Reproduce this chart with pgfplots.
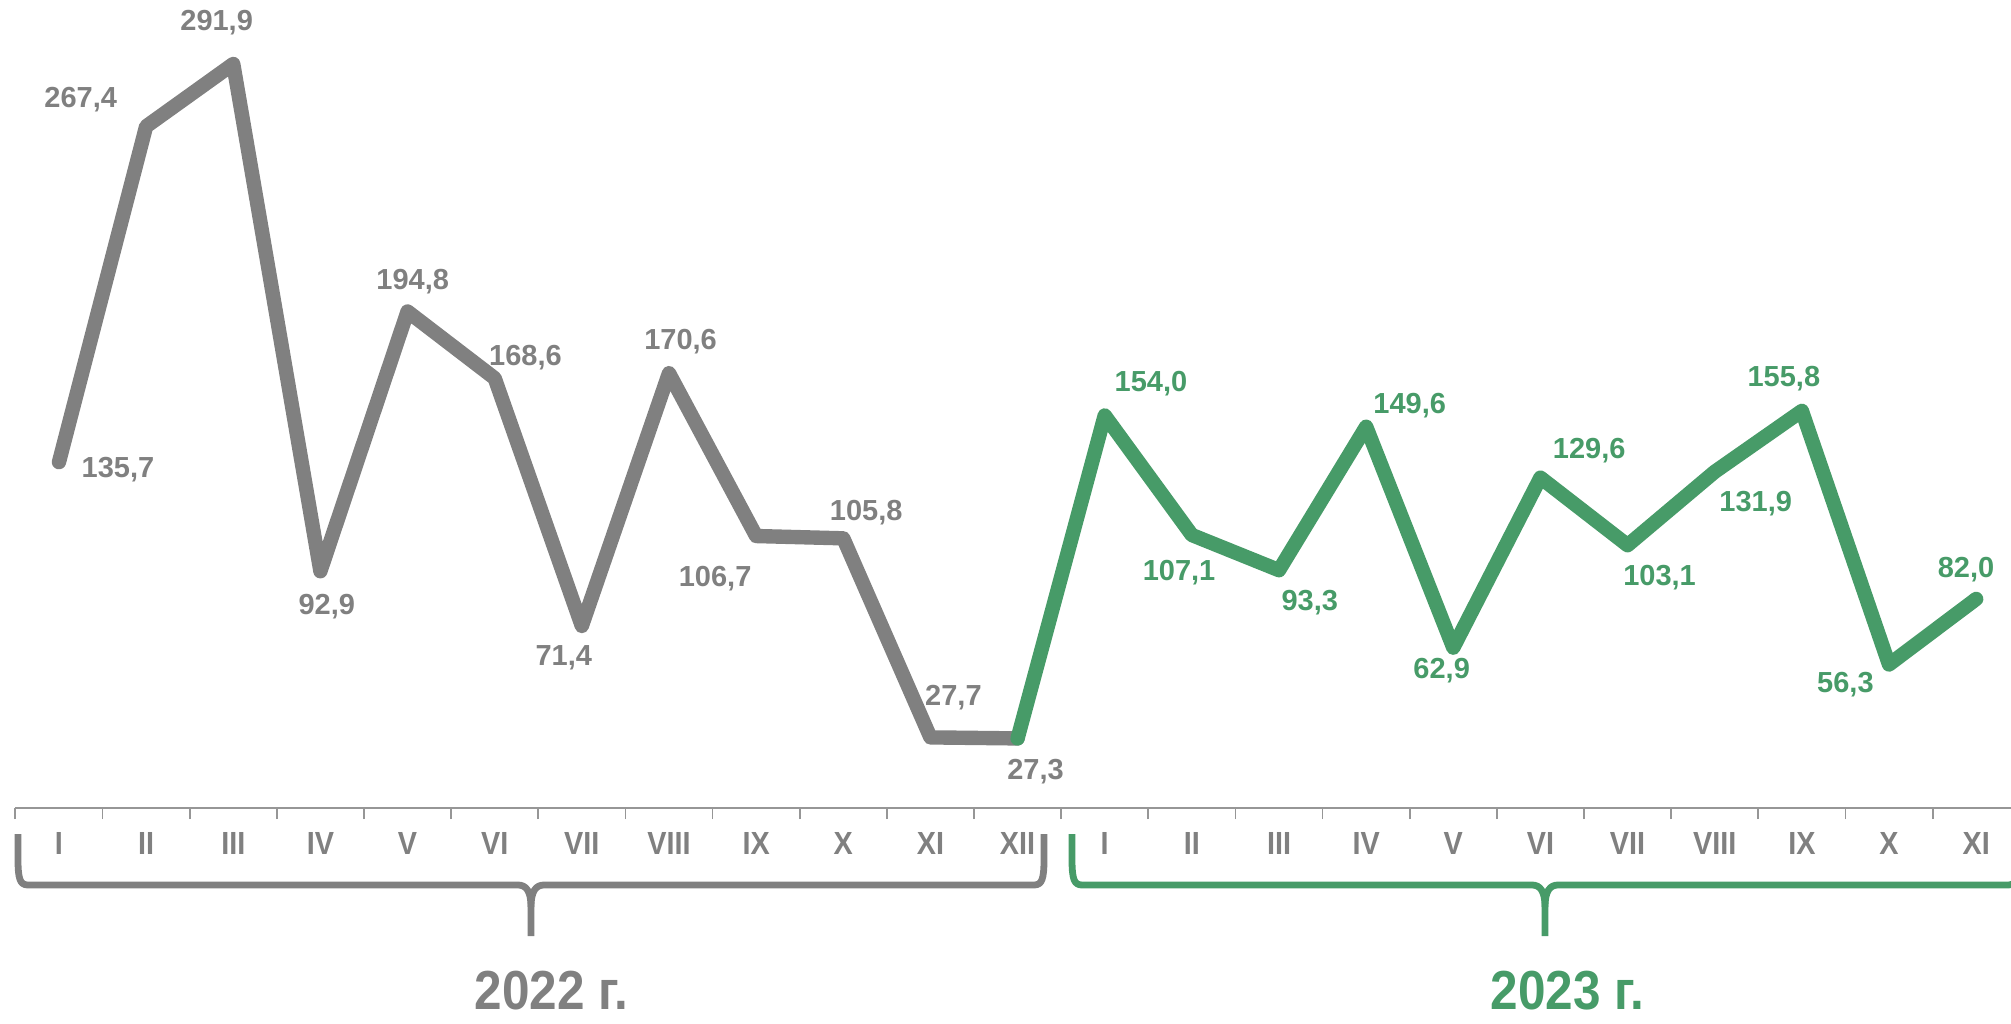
\documentclass[border=0pt]{standalone}
\usepackage{fontspec}
\setmainfont{Liberation Sans}
\newfontfamily\narrowfont[FakeStretch=0.9]{Liberation Sans}
\usepackage{pgfplots}
\usepackage{pgfplotstable}
\pgfplotsset{compat=1.18}
\definecolor{cgray}{RGB}{128,128,128}
\definecolor{cgreen}{RGB}{71,155,104}
\definecolor{caxis}{RGB}{150,150,150}

\pgfplotstableread{
x y label dx dy
0 135.7 135,7 29.5 -3.8
1 267.4 267,4 -32.7 13.5
2 291.9 291,9 -8.3 20.5
3 92.9 92,9 3.2 -17.9
4 194.8 194,8 2.6 14.7
5 168.6 168,6 15.4 10.3
6 71.4 71,4 -9.0 -16.0
7 170.6 170,6 5.8 16.0
8 106.7 106,7 -20.5 -21.2
9 105.8 105,8 11.5 12.8
10 27.7 27,7 11.5 19.9
11 27.3 27,3 9.0 -16.7
}\tabA

\pgfplotstableread{
x y label dx dy
11 27.3 {} 0 0
12 154.0 154,0 23.1 16.0
13 107.1 107,1 -6.4 -18.6
14 93.3 93,3 15.4 -16.0
15 149.6 149,6 21.8 10.3
16 62.9 62,9 -5.8 -11.5
17 129.6 129,6 24.4 13.5
18 103.1 103,1 16.0 -16.0
19 131.9 131,9 20.5 -16.0
20 155.8 155,8 -9.0 16.0
21 56.3 56,3 -21.8 -10.3
22 82.0 82,0 -5.1 14.7
}\tabB

\begin{document}
\begin{tikzpicture}
\useasboundingbox (0,0) rectangle (1005.5pt,511.5pt);
\begin{axis}[
  at={(7.7pt,107.5pt)}, anchor=south west,
  scale only axis, width=997.8pt, height=404pt,
  xmin=-0.5, xmax=22.4, ymin=0, ymax=317,
  clip=false,
  axis y line=none,
  axis x line*=bottom,
  x axis line style={caxis, line width=0.9pt},
  xtick={0,...,22},
  xticklabels={I,II,III,IV,V,VI,VII,VIII,IX,X,XI,XII,I,II,III,IV,V,VI,VII,VIII,IX,X,XI},
  major tick length=0pt,
  minor xtick={-0.5,0.5,...,21.5},
  minor tick length=5.5pt,
  tick align=outside,
  minor tick style={caxis, line width=0.9pt},
  xticklabel style={anchor=base, yshift=-23pt, text=cgray, font=\narrowfont\fontsize{16}{18}\selectfont\bfseries},
  nodes near coords,
  point meta=explicit symbolic,
  visualization depends on={\thisrow{dx}\as\dx},
  visualization depends on={\thisrow{dy}\as\dy},
]
\addplot[cgray, line width=7.2pt, line join=round, line cap=round, mark=none,
  nodes near coords style={anchor=center, xshift=\dx pt, yshift=\dy pt, text=cgray, font=\fontsize{14.5}{17}\selectfont\bfseries}]
  table[x=x, y=y, meta=label]{\tabA};
\addplot[cgreen, line width=7.2pt, line join=round, line cap=round, mark=none,
  nodes near coords style={anchor=center, xshift=\dx pt, yshift=\dy pt, text=cgreen, font=\fontsize{14.5}{17}\selectfont\bfseries}]
  table[x=x, y=y, meta=label]{\tabB};
\end{axis}
% braces
\draw[cgray, line width=3.4pt, line cap=butt, line join=round]
  (9pt,94.5pt) -- (9pt,82pt) .. controls (9pt,72pt) and (10pt,69pt) .. (14pt,69pt)
  -- (259pt,69pt) .. controls (263pt,69pt) and (265.5pt,66pt) .. (265.5pt,58pt) -- (265.5pt,43.5pt);
\draw[cgray, line width=3.4pt, line cap=butt, line join=round]
  (522pt,94.5pt) -- (522pt,82pt) .. controls (522pt,72pt) and (521pt,69pt) .. (517pt,69pt)
  -- (272pt,69pt) .. controls (268pt,69pt) and (265.5pt,66pt) .. (265.5pt,58pt);
\draw[cgreen, line width=3.4pt, line cap=butt, line join=round]
  (536pt,94.5pt) -- (536pt,82pt) .. controls (536pt,72pt) and (537pt,69pt) .. (541pt,69pt)
  -- (766pt,69pt) .. controls (770pt,69pt) and (772.5pt,66pt) .. (772.5pt,58pt) -- (772.5pt,43.5pt);
\draw[cgreen, line width=3.4pt, line cap=butt, line join=round]
  (1009pt,94.5pt) -- (1009pt,82pt) .. controls (1009pt,72pt) and (1008pt,69pt) .. (1004pt,69pt)
  -- (779pt,69pt) .. controls (775pt,69pt) and (772.5pt,66pt) .. (772.5pt,58pt);
\node[anchor=base, text=cgray, font=\narrowfont\fontsize{27.5}{31}\selectfont\bfseries, inner sep=0pt] at (275.7pt,7pt) {2022 г.};
\node[anchor=base, text=cgreen, font=\narrowfont\fontsize{27.5}{31}\selectfont\bfseries, inner sep=0pt] at (783.6pt,7pt) {2023 г.};
\end{tikzpicture}
\end{document}
